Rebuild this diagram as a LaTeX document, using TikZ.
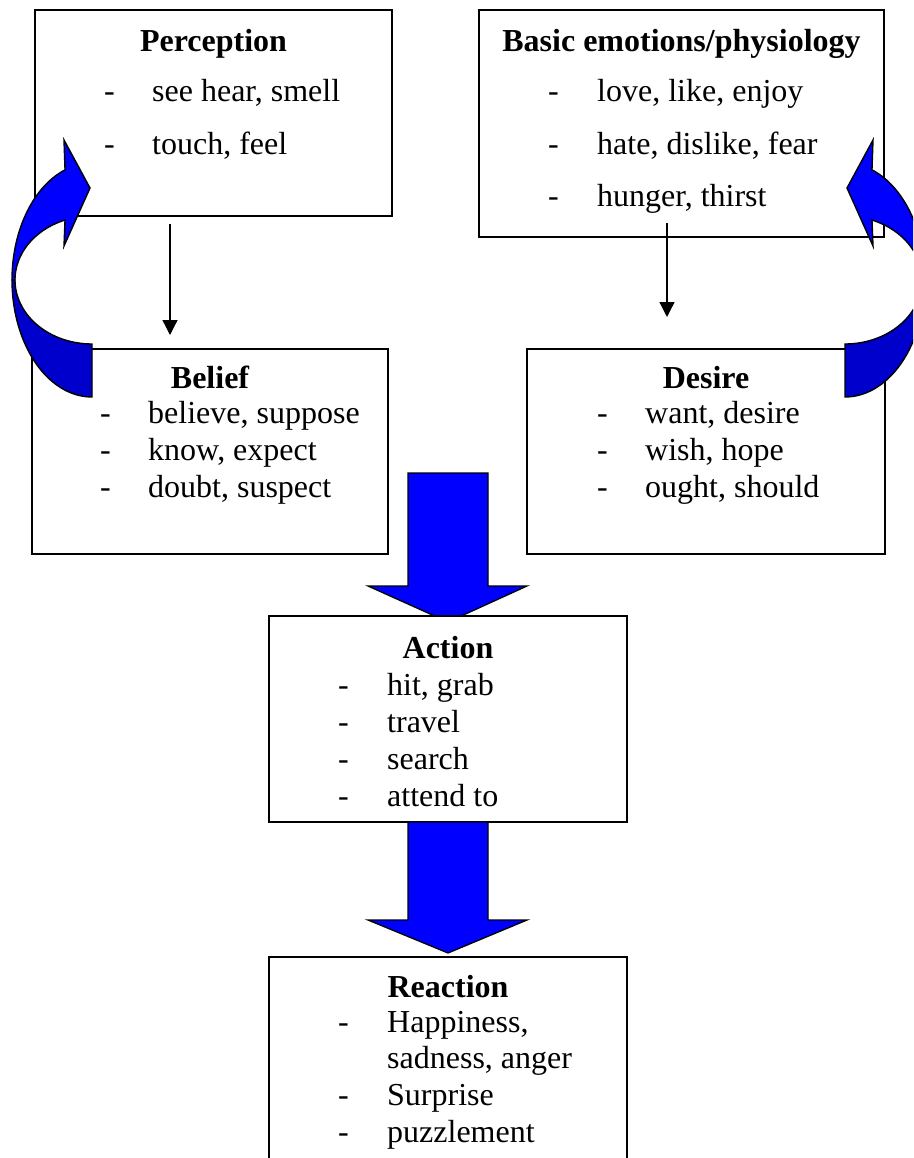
\documentclass[tikz,border=0pt]{standalone}
\usepackage{fontspec}
\setmainfont{Liberation Serif}
\usetikzlibrary{arrows.meta,calc}
\pgfdeclarelayer{bg}
\pgfsetlayers{bg,main}
\definecolor{arrowblue}{RGB}{0,0,255}
\definecolor{arrowshade}{RGB}{0,0,204}
\begin{document}
\begin{tikzpicture}[x=1pt,y=-1pt,
  box/.style={draw=black, fill=white, line width=1.6pt, inner sep=0pt, outer sep=0pt},
  ttl/.style={anchor=base, inner sep=0pt, font=\fontsize{32}{37}\selectfont\bfseries},
  itm/.style={anchor=base west, inner sep=0pt, font=\fontsize{32}{37}\selectfont},
  arr/.style={line width=1.3pt, -{Triangle[length=15pt,width=15pt]}},
  blk/.style={fill=arrowblue, draw=black, line width=1.3pt, line join=miter},
  band/.style={draw=black, line width=1.4pt, line join=miter}]
\useasboundingbox (0,0) rectangle (913,1158);
\clip (0,0) rectangle (913,1158);

% boxes
\node[box, minimum width=357pt, minimum height=206pt] (perc) at (213.5,113) {};
\node[box, minimum width=405pt, minimum height=227pt] (emo)  at (681.5,123.5) {};
\node[box, minimum width=356pt, minimum height=205pt] (bel)  at (210,451.5) {};
\node[box, minimum width=358pt, minimum height=205pt] (des)  at (706,451.5) {};
\node[box, minimum width=358pt, minimum height=206pt] (act)  at (448,719) {};
\node[box, minimum width=358pt, minimum height=216pt] (rea)  at (448,1065) {};

% Perception
\node[ttl] (percT) at (213.5,52) {Perception};
\node[itm] (percD1) at (104,102) {-};
\node[itm] (percI1) at (152,102) {see hear, smell};
\node[itm] (percD2) at (104,155) {-};
\node[itm] (percI2) at (152,155) {touch, feel};

% Basic emotions
\node[ttl] (emoT) at (681.5,52) {Basic emotions/physiology};
\node[itm] (emoD1) at (548,102) {-};
\node[itm] (emoI1) at (597,102) {love, like, enjoy};
\node[itm] (emoD2) at (548,155) {-};
\node[itm] (emoI2) at (597,155) {hate, dislike, fear};
\node[itm] (emoD3) at (548,207) {-};
\node[itm] (emoI3) at (597,207) {hunger, thirst};

% Belief
\node[ttl] (belT) at (210,388) {Belief};
\node[itm] (belD1) at (100,423) {-};
\node[itm] (belI1) at (148,423) {believe, suppose};
\node[itm] (belD2) at (100,460) {-};
\node[itm] (belI2) at (148,460) {know, expect};
\node[itm] (belD3) at (100,497) {-};
\node[itm] (belI3) at (148,497) {doubt, suspect};

% Desire
\node[ttl] (desT) at (706,388) {Desire};
\node[itm] (desD1) at (597,423) {-};
\node[itm] (desI1) at (645,423) {want, desire};
\node[itm] (desD2) at (597,460) {-};
\node[itm] (desI2) at (645,460) {wish, hope};
\node[itm] (desD3) at (597,497) {-};
\node[itm] (desI3) at (645,497) {ought, should};

% Action
\node[ttl] (actT) at (448,658) {Action};
\node[itm] (actD1) at (338,695) {-};
\node[itm] (actI1) at (387,695) {hit, grab};
\node[itm] (actD2) at (338,732) {-};
\node[itm] (actI2) at (387,732) {travel};
\node[itm] (actD3) at (338,769) {-};
\node[itm] (actI3) at (387,769) {search};
\node[itm] (actD4) at (338,806) {-};
\node[itm] (actI4) at (387,806) {attend to};

% Reaction
\node[ttl] (reaT) at (448,997) {Reaction};
\node[itm] (reaD1) at (338,1032) {-};
\node[itm] (reaI1) at (387,1032) {Happiness,};
\node[itm] (reaI1b) at (387,1068) {sadness, anger};
\node[itm] (reaD2) at (338,1105) {-};
\node[itm] (reaI2) at (387,1105) {Surprise};
\node[itm] (reaD3) at (338,1142) {-};
\node[itm] (reaI3) at (387,1142) {puzzlement};

% thin arrows
\coordinate (pcol) at (170,0);
\coordinate (ecol) at (667,0);
\draw[arr] ([yshift=-8pt]perc.south -| pcol) -- ([yshift=14pt]bel.north -| pcol);
\draw[arr] ([yshift=14pt]emo.south -| ecol) -- ([yshift=32pt]des.north -| ecol);

% block arrow into Action (behind the box)
\begin{pgfonlayer}{bg}
\draw[blk] ($(act.north)+(-40,-143)$) -- ++(80,0) -- ++(0,113) -- ++(39,0)
  -- ($(act.north)+(0,6)$) -- ($(act.north)+(-80,-30)$) -- ++(40,0) -- cycle;
\end{pgfonlayer}

% block arrow from Action to Reaction
\draw[blk] ($(act.south)+(-40,0)$) -- ++(80,0) -- ++(0,98) -- ++(39,0)
  -- ($(rea.north)+(0,-4)$) -- ($(rea.north)+(-80,-37)$) -- ++(40,0) -- cycle;

% curved feedback arrow, Belief to Perception
\filldraw[band, fill=arrowshade]
  plot[domain=90:180, samples=40, variable=\t] ({92+80*cos(\t)},{280+117*sin(\t)})
  -- plot[domain=180:90, samples=40, variable=\t] ({92+77*cos(\t)},{280+64*sin(\t)}) -- cycle;
\filldraw[band, fill=arrowblue]
  plot[domain=180:250.3, samples=40, variable=\t] ({92+80*cos(\t)},{280+117*sin(\t)})
  -- (64,140) -- (90,188) -- (64,246)
  -- plot[domain=249.5:180, samples=40, variable=\t] ({92+77*cos(\t)},{280+64*sin(\t)}) -- cycle;

% curved feedback arrow, Desire to Basic emotions (mirror image)
\begin{scope}[xshift=937pt, xscale=-1]
\filldraw[band, fill=arrowshade]
  plot[domain=90:180, samples=40, variable=\t] ({92+80*cos(\t)},{280+117*sin(\t)})
  -- plot[domain=180:90, samples=40, variable=\t] ({92+77*cos(\t)},{280+64*sin(\t)}) -- cycle;
\filldraw[band, fill=arrowblue]
  plot[domain=180:250.3, samples=40, variable=\t] ({92+80*cos(\t)},{280+117*sin(\t)})
  -- (64,140) -- (90,188) -- (64,246)
  -- plot[domain=249.5:180, samples=40, variable=\t] ({92+77*cos(\t)},{280+64*sin(\t)}) -- cycle;
\end{scope}
\end{tikzpicture}
\end{document}
